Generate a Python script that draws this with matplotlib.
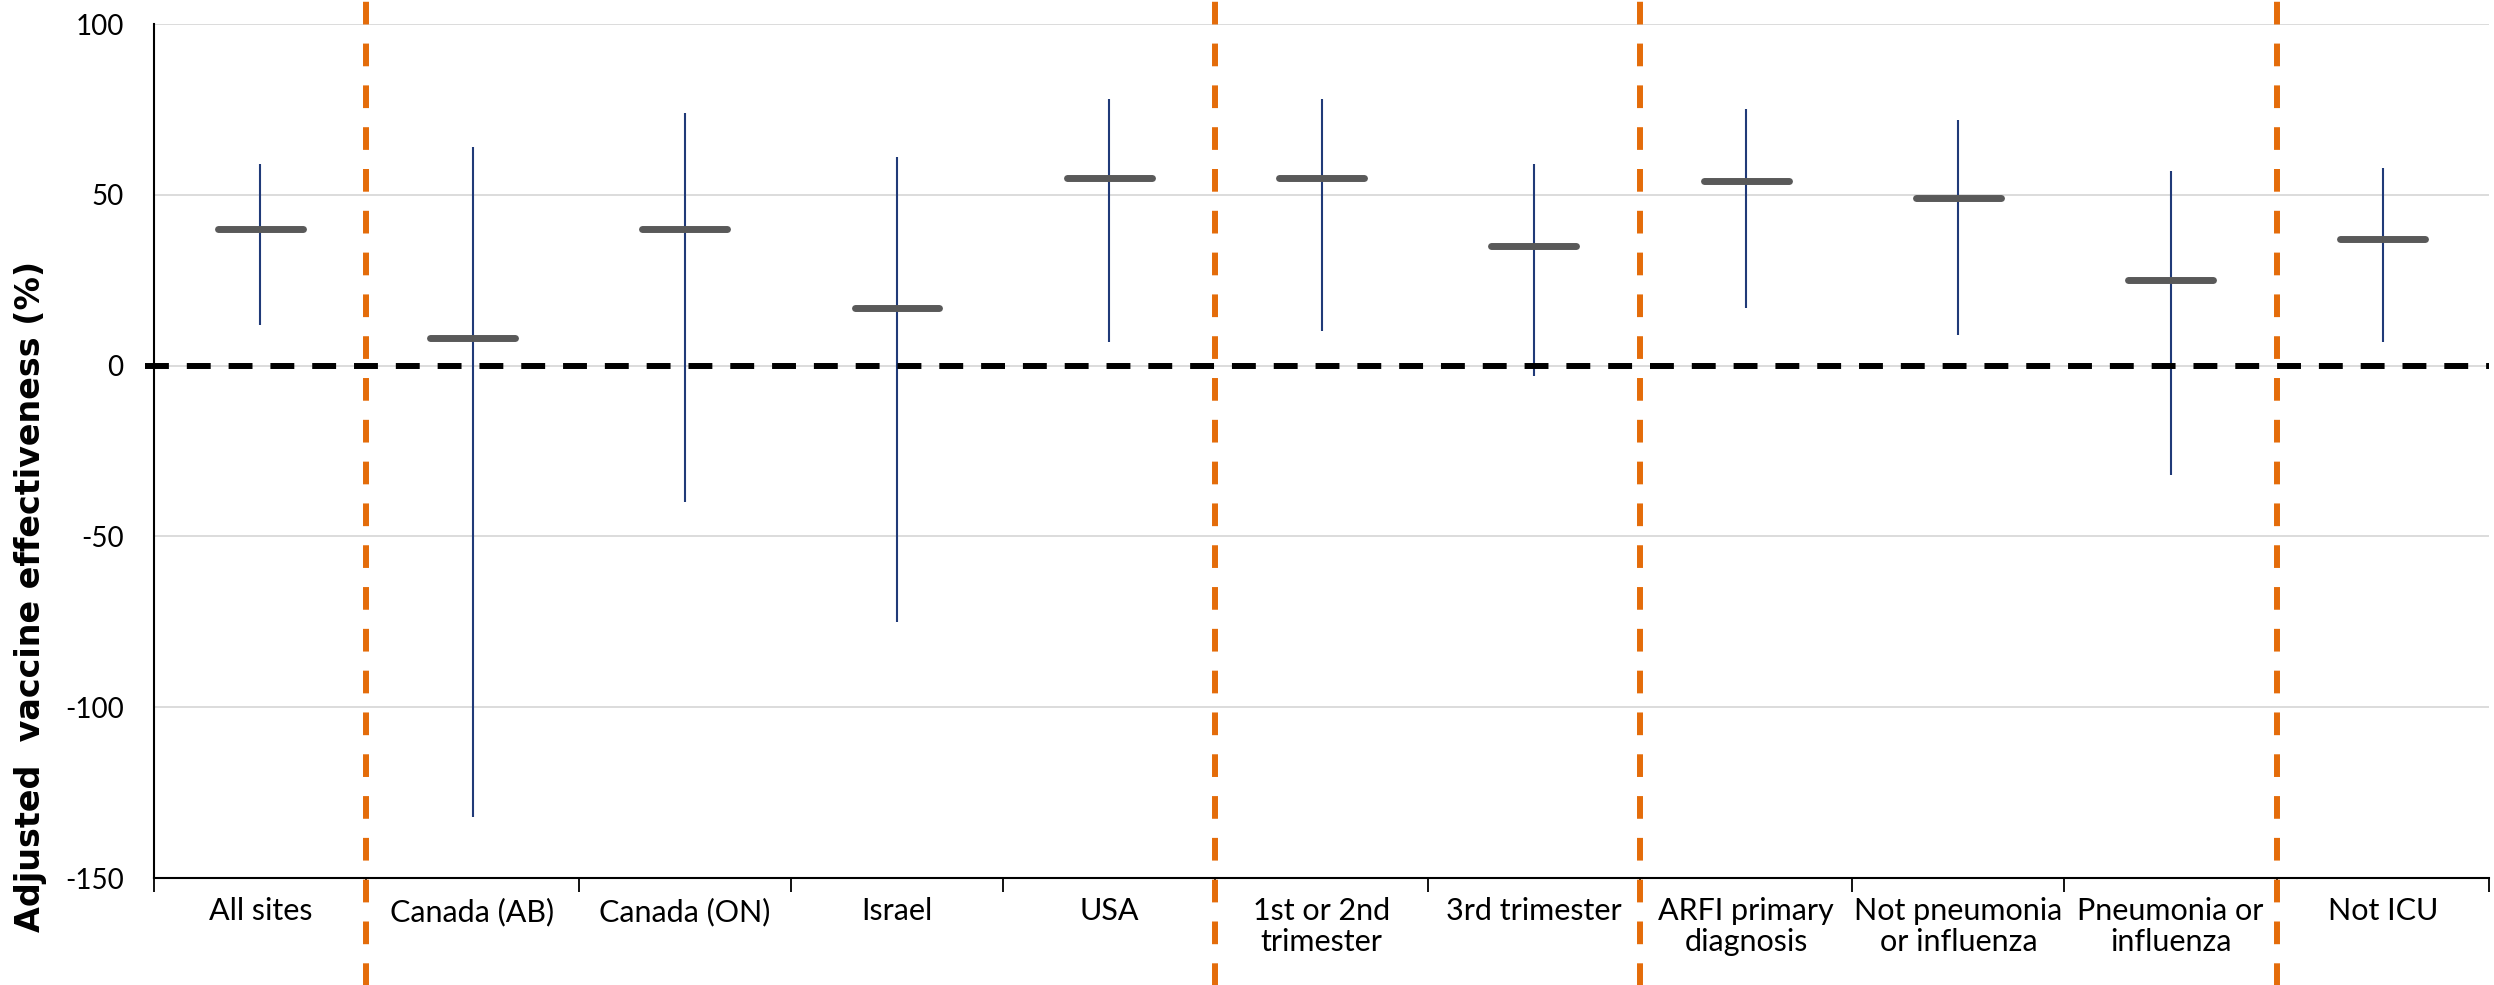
import numpy as np
import matplotlib.pyplot as plt

plt.rcParams['font.family'] = ['Lato', 'DejaVu Sans']
plt.rcParams['axes.unicode_minus'] = False

# data
categories = ["All sites", "Canada (AB)", "Canada (ON)", "Israel", "USA",
              "1st or 2nd\ntrimester", "3rd trimester", "ARFI primary\ndiagnosis",
              "Not pneumonia\nor influenza", "Pneumonia or\ninfluenza", "Not ICU"]
estimate = [40, 8, 40, 17, 55, 55, 35, 54, 49, 25, 37]
ci_upper = [59, 64, 74, 61, 78, 78, 59, 75, 72, 57, 58]
ci_lower = [12, -132, -40, -75, 7, 10, -3, 17, 9, -32, 7]
group_breaks = [1, 5, 7, 10]   # dashed separators after these categories

n = len(categories)
x = np.arange(n)

fig = plt.figure(figsize=(24.94, 9.85), dpi=100)
ax = fig.add_axes([0.0618, 0.1086, 0.9362, 0.867])

# confidence intervals
ax.vlines(x, ci_lower, ci_upper, color='#203a78', lw=1.5, zorder=3)
# point estimates
for xi, est in zip(x, estimate):
    ax.plot([xi - 0.2, xi + 0.2], [est, est], color='#595959', lw=5,
            solid_capstyle='round', zorder=4)

# zero line
ax.axhline(0, xmin=-0.004, xmax=1, color='black', lw=4.3, ls=(0, (4, 3)),
           clip_on=False, zorder=5)

# group separators (extend past the axes)
for b in group_breaks:
    ax.axvline(b - 0.5, ymin=-0.126, ymax=1.03, color='#e46c0a', lw=4.3,
               ls=(0, (3.8, 3.2)), clip_on=False, zorder=6)

ax.set_xlim(-0.5, n - 0.5)
ax.set_ylim(-150, 100)
ax.set_yticks([-150, -100, -50, 0, 50, 100])
ax.yaxis.grid(True, color='#d9d9d9', lw=1.3)
ax.set_axisbelow(True)

ax.set_xticks(np.arange(-0.5, n, 1.0))
ax.set_xticklabels([])
ax.set_xticks(x, minor=True)
ax.set_xticklabels(categories, minor=True, fontsize=22, linespacing=1.1)
ax.tick_params(axis='x', which='major', length=10, width=1.3, direction='out')
ax.tick_params(axis='x', which='minor', length=0, pad=14)
ax.tick_params(axis='y', length=0, labelsize=20, pad=22)

ax.spines['top'].set_visible(False)
ax.spines['right'].set_visible(False)
ax.spines['left'].set_linewidth(1.5)
ax.spines['bottom'].set_linewidth(1.5)

ax.set_ylabel("Adjusted  vaccine effectiveness (%)", fontsize=24,
              fontweight='bold', family='DejaVu Sans')
ax.yaxis.set_label_coords(-0.046, 0.33)

plt.savefig("out.png", dpi=100)
